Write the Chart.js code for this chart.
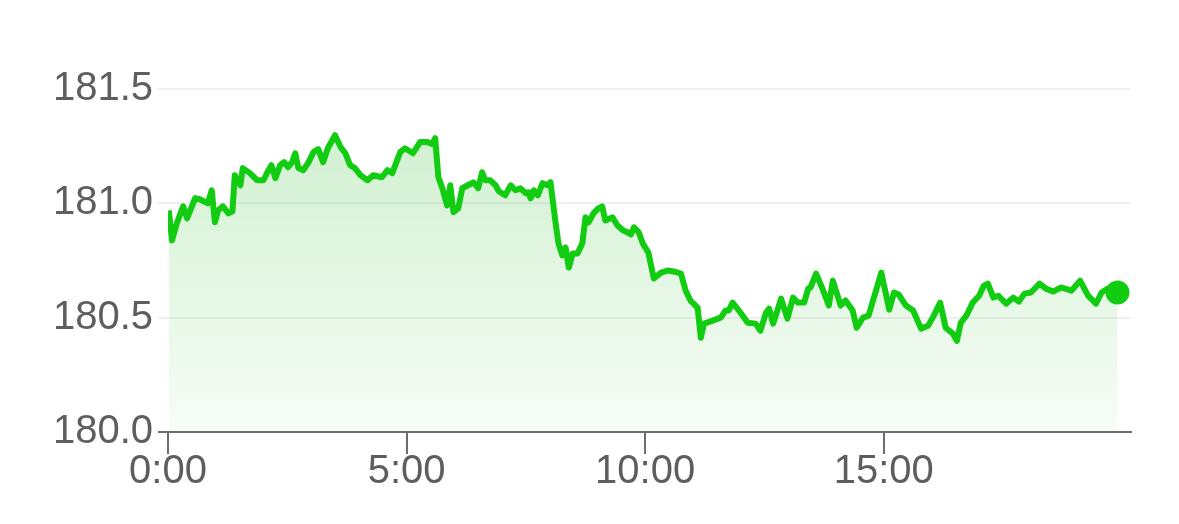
<!DOCTYPE html>
<html>
<head>
<meta charset="utf-8">
<script src="https://cdn.jsdelivr.net/npm/chart.js@4/dist/chart.umd.min.js"></script>
<style>
  html, body { margin: 0; padding: 0; background: #fff; }
  #wrap { width: 1179px; height: 524px; }
</style>
</head>
<body>
<div id="wrap"><canvas id="priceChart"></canvas></div>
<script>
// minutes since 0:00
const times = [1, 5, 11, 19, 24, 34, 40, 50, 55, 59, 63, 69, 76, 81, 84, 91, 94, 103, 112, 120,
  125, 130, 135, 141, 146, 151, 156, 160, 164, 170, 176, 183, 189, 195, 201, 210, 217, 223, 229, 235,
  242, 251, 258, 269, 276, 282, 292, 298, 308, 317, 326, 332, 336, 340, 345, 351, 355, 359, 365, 370,
  377, 384, 390, 395, 399, 405, 412, 416, 424, 431, 437, 443, 450, 453, 456, 460, 465, 471, 477, 481,
  487, 491, 496, 500, 504, 509, 515, 521, 525, 529, 535, 541, 546, 550, 559, 565, 572, 578, 582, 586,
  592, 597, 604, 611, 620, 628, 636, 645, 651, 657, 666, 670, 674, 685, 695, 701, 705, 710, 718, 729,
  739, 745, 752, 756, 761, 771, 779, 786, 792, 800, 805, 808, 815, 824, 831, 836, 846, 852, 861, 866,
  874, 881, 897, 907, 913, 919, 928, 937, 947, 956, 963, 971, 978, 987, 992, 997, 1004, 1012, 1020, 1026,
  1031, 1038, 1044, 1054, 1063, 1070, 1077, 1085, 1096, 1104, 1113, 1123, 1136, 1147, 1157, 1167, 1174, 1182, 1194];

const prices = [180.969, 180.838, 180.912, 180.987, 180.934, 181.022, 181.018, 181.000, 181.057, 180.917,
  180.969, 180.987, 180.956, 180.965, 181.123, 181.079, 181.154, 181.132, 181.101, 181.101,
  181.136, 181.167, 181.110, 181.167, 181.180, 181.158, 181.180, 181.219, 181.154, 181.145,
  181.175, 181.224, 181.237, 181.180, 181.241, 181.298, 181.246, 181.219, 181.167, 181.154,
  181.123, 181.101, 181.123, 181.114, 181.145, 181.132, 181.224, 181.241, 181.219, 181.268,
  181.268, 181.259, 181.285, 181.114, 181.066, 180.991, 181.079, 180.961, 180.978, 181.066,
  181.079, 181.092, 181.066, 181.136, 181.101, 181.101, 181.079, 181.053, 181.035, 181.079,
  181.057, 181.066, 181.044, 181.048, 181.022, 181.057, 181.035, 181.088, 181.079, 181.092,
  180.925, 180.825, 180.772, 180.807, 180.719, 180.781, 180.781, 180.825, 180.939, 180.917,
  180.956, 180.978, 180.987, 180.925, 180.939, 180.904, 180.882, 180.873, 180.864, 180.895,
  180.873, 180.825, 180.785, 180.671, 180.697, 180.706, 180.702, 180.693, 180.618, 180.575,
  180.544, 180.412, 180.474, 180.487, 180.500, 180.531, 180.531, 180.566, 180.531, 180.478,
  180.474, 180.443, 180.522, 180.539, 180.474, 180.583, 180.496, 180.588, 180.566, 180.566,
  180.627, 180.632, 180.693, 180.618, 180.553, 180.662, 180.553, 180.575, 180.531, 180.456,
  180.500, 180.509, 180.697, 180.535, 180.610, 180.601, 180.553, 180.531, 180.452, 180.465,
  180.509, 180.566, 180.456, 180.430, 180.399, 180.478, 180.509, 180.566, 180.596, 180.640,
  180.649, 180.588, 180.596, 180.561, 180.588, 180.570, 180.605, 180.610, 180.649, 180.627,
  180.614, 180.632, 180.618, 180.662, 180.596, 180.561, 180.610, 180.627, 180.610];

const xTicks = [0, 300, 600, 900];
const yTicks = [180.0, 180.5, 181.0, 181.5];

const green = '#12cc12';
const points = times.map((t, i) => ({ x: t, y: prices[i] }));

function fmtTime(m) {
  const h = Math.floor(m / 60);
  const mm = m % 60;
  return h + ':' + (mm < 10 ? '0' : '') + mm;
}

const ctx = document.getElementById('priceChart').getContext('2d');
new Chart(ctx, {
  type: 'line',
  data: {
    datasets: [{
      data: points,
      borderColor: green,
      borderWidth: 6,
      tension: 0,
      fill: 'start',
      backgroundColor: function(context) {
        const area = context.chart.chartArea;
        if (!area) return 'rgba(20,200,20,0.1)';
        const g = context.chart.ctx.createLinearGradient(0, area.top, 0, area.bottom);
        g.addColorStop(0, 'rgba(20,180,20,0.22)');
        g.addColorStop(1, 'rgba(20,180,20,0.03)');
        return g;
      },
      pointRadius: ctx => ctx.dataIndex === points.length - 1 ? 12 : 0,
      pointBackgroundColor: green,
      pointBorderWidth: 0,
      borderJoinStyle: 'round'
    }]
  },
  options: {
    responsive: true,
    maintainAspectRatio: false,
    animation: false,
    layout: { padding: { left: 50, right: 48, top: 89, bottom: 34 } },
    plugins: {
      legend: { display: false },
      tooltip: { enabled: false }
    },
    scales: {
      x: {
        type: 'linear',
        min: 0,
        max: 1211,
        afterBuildTicks: scale => { scale.ticks = xTicks.map(v => ({ value: v })); },
        border: { display: true, color: '#6c6c72', width: 2 },
        grid: {
          drawOnChartArea: false,
          drawTicks: true,
          tickLength: 22,
          color: '#6c6c72',
          lineWidth: 2
        },
        ticks: {
          padding: -6,
          maxRotation: 0,
          color: '#5e5e5e',
          font: { family: 'Liberation Sans', size: 40 },
          callback: v => fmtTime(v)
        }
      },
      y: {
        min: 180,
        max: 181.5,
        afterBuildTicks: scale => { scale.ticks = yTicks.map(v => ({ value: v })); },
        afterFit: scale => { scale.width = 118; },
        border: { display: false },
        grid: {
          color: c => c.index === 0 ? '#6c6c72' : '#f0f0f2',
          lineWidth: 2,
          drawTicks: true,
          tickLength: 10
        },
        ticks: {
          padding: 5,
          color: '#5e5e5e',
          font: { family: 'Liberation Sans', size: 40 },
          callback: v => v.toFixed(1)
        }
      }
    }
  }
});
</script>
</body>
</html>
